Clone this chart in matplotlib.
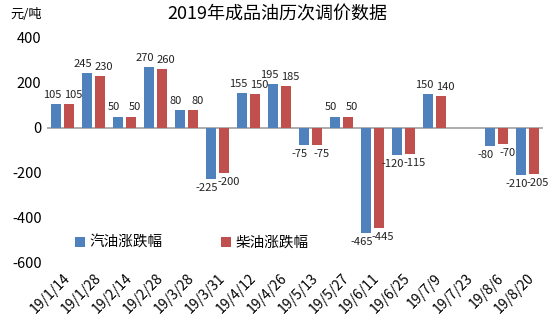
import numpy as np
import matplotlib.pyplot as plt

plt.rcParams['font.family'] = ['Noto Sans CJK SC', 'DejaVu Sans']

# data
dates = ["19/1/14", "19/1/28", "19/2/14", "19/2/28", "19/3/28", "19/3/31",
         "19/4/12", "19/4/26", "19/5/13", "19/5/27", "19/6/11", "19/6/25",
         "19/7/9", "19/7/23", "19/8/6", "19/8/20"]
gasoline = [105, 245, 50, 270, 80, -225, 155, 195, -75, 50, -465, -120,
            150, np.nan, -80, -210]
diesel = [105, 230, 50, 260, 80, -200, 150, 185, -75, 50, -445, -115,
          140, np.nan, -70, -205]
yticks = [-600, -400, -200, 0, 200, 400]

blue = "#4F81BD"
red = "#C0504D"

fig = plt.figure(figsize=(5.54, 3.32), dpi=100)
ax = fig.add_axes([0.085, 0.208, 0.895, 0.678])

x = np.arange(len(dates))
w = 0.34
b1 = ax.bar(x - 0.21, gasoline, w, color=blue, label="汽油涨跌幅")
b2 = ax.bar(x + 0.21, diesel, w, color=red, label="柴油涨跌幅")

# value labels above/below each bar, pushed apart a little
for bars, vals, dx in ((b1, gasoline, -3), (b2, diesel, 3)):
    for rect, v in zip(bars, vals):
        if np.isnan(v):
            continue
        cx = rect.get_x() + rect.get_width() / 2
        off = 3 if v >= 0 else -3
        ax.annotate(f"{v:g}", (cx, v), xytext=(dx, off), textcoords="offset points",
                    ha="center", va="bottom" if v >= 0 else "top",
                    fontsize=8, color="#222222")

ax.set_xlim(-0.5, len(dates) - 0.5)
ax.set_ylim(-600, 400)
ax.set_yticks(yticks)
ax.set_yticklabels([str(t) for t in yticks], fontsize=10.5)
ax.set_xticks(x)
ax.set_xticklabels(dates, rotation=45, ha="right", rotation_mode="anchor",
                   fontsize=10)
ax.tick_params(axis="both", length=0, pad=4)
ax.tick_params(axis="x", pad=6)
for s in ["top", "right", "left", "bottom"]:
    ax.spines[s].set_visible(False)
ax.axhline(0, color="#A0A0A0", lw=1.2, zorder=0)

fig.text(0.5, 0.955, "2019年成品油历次调价数据", ha="center", va="center",
         fontsize=13)
fig.text(0.018, 0.955, "元/吨", ha="left", va="center", fontsize=9.5)

ax.legend(loc="lower left", bbox_to_anchor=(0.03, 0.0), ncol=2, frameon=False,
          fontsize=10.5, handlelength=0.7, handleheight=0.7, columnspacing=4,
          handletextpad=0.3)

fig.savefig("out.png", dpi=100)
